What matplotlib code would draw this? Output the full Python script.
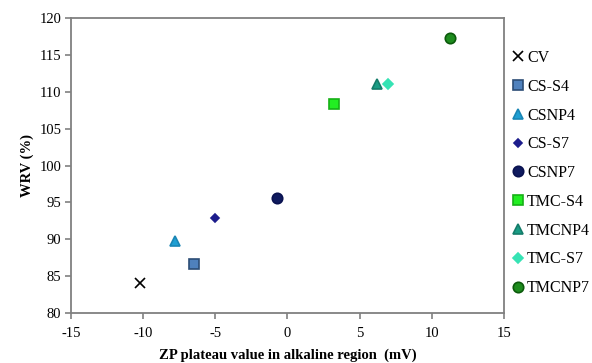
import matplotlib
matplotlib.use('Agg')
import matplotlib.pyplot as plt

plt.rcParams['font.family'] = ['Liberation Serif', 'DejaVu Serif']
plt.rcParams['axes.unicode_minus'] = False

labels = ['CV', 'CS-S4', 'CSNP4', 'CS-S7', 'CSNP7', 'TMC-S4', 'TMCNP4', 'TMC-S7', 'TMCNP7']
zp = [-10.2, -6.5, -7.8, -5.0, -0.7, 3.2, 6.2, 7.0, 11.3]
wrv = [84.1, 86.6, 89.8, 92.9, 95.6, 108.3, 111.1, 111.1, 117.3]

markers = ['x', 's', '^', 'D', 'o', 's', '^', 'D', 'o']
sizes = [7, 7.5, 7.5, 4.5, 7.5, 7.5, 7.5, 5, 7.5]
faces = ['black', '#4f81bd', '#1f9fd3', '#1c1c8c', '#0f1a5e', '#22ee22', '#1a9c84', '#36e3b4', '#1e8c1e']
edges = ['black', '#2c4d75', '#1a86b5', '#1c1c8c', '#0a1250', '#17b017', '#157c6a', '#36e3b4', '#0c5a0c']

fig = plt.figure(figsize=(5.92, 3.63), dpi=100)
ax = fig.add_axes([0.120, 0.138, 0.731, 0.812])

for i in range(len(labels)):
    ax.plot(zp[i], wrv[i], linestyle='none', marker=markers[i], markersize=sizes[i],
            markerfacecolor=faces[i], markeredgecolor=edges[i], markeredgewidth=1.2,
            label=labels[i])

ax.set_xlim(-15, 15)
ax.set_ylim(80, 120)
ax.set_xticks(range(-15, 16, 5))
ax.set_yticks(range(80, 121, 5))
for s in ax.spines.values():
    s.set_color('#808080')
    s.set_linewidth(1.3)
ax.tick_params(direction='out', length=4, width=1.2, color='#808080', labelsize=10.5, pad=3)
ax.tick_params(axis='x', pad=6)
ax.set_xlabel('ZP plateau value in alkaline region  (mV)', fontsize=10.5, fontweight='bold', labelpad=6)
ax.set_ylabel('WRV (%)', fontsize=10.5, fontweight='bold', labelpad=4)

fig.legend(loc='upper left', bbox_to_anchor=(0.855, 0.88), frameon=False, fontsize=11.5,
           handlelength=0.7, handletextpad=0.2, labelspacing=0.8, borderaxespad=0)

fig.savefig('out.png', dpi=100)
